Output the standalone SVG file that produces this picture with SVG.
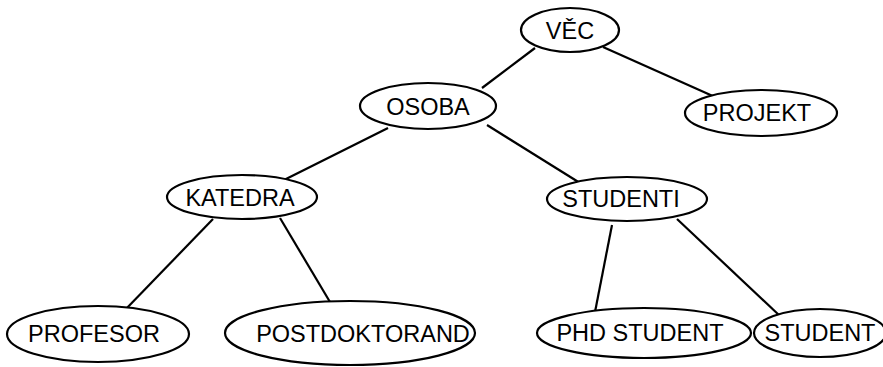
<svg xmlns="http://www.w3.org/2000/svg" width="883" height="367" viewBox="0 0 883 367">
  <style>
    .node ellipse { fill: #ffffff; stroke: #000000; stroke-width: 2.2; }
    .node text { font-family: "Liberation Sans", Arial, sans-serif; font-size: 23.5px; fill: #000000; text-anchor: middle; }
    #edges line { stroke: #000000; stroke-width: 2.2; }
  </style>
  <rect width="883" height="367" fill="#ffffff"/>
  <g id="edges">
    <line x1="535" y1="48" x2="482" y2="88"/>
    <line x1="603" y1="47" x2="715" y2="97"/>
    <line x1="388" y1="128" x2="282" y2="181"/>
    <line x1="487" y1="125" x2="580" y2="183"/>
    <line x1="213" y1="219" x2="125" y2="310"/>
    <line x1="280" y1="218" x2="330" y2="302"/>
    <line x1="612" y1="225" x2="595" y2="312"/>
    <line x1="677" y1="219" x2="780" y2="316"/>
  </g>
  <g id="vec" class="node">
    <ellipse cx="570" cy="30" rx="49" ry="22"/>
    <text x="570" y="39">VĚC</text>
  </g>
  <g id="osoba" class="node">
    <ellipse cx="428" cy="106" rx="68" ry="23"/>
    <text x="428" y="115">OSOBA</text>
  </g>
  <g id="projekt" class="node">
    <ellipse cx="761" cy="113" rx="76" ry="23"/>
    <text x="757" y="121">PROJEKT</text>
  </g>
  <g id="katedra" class="node">
    <ellipse cx="242" cy="197" rx="75" ry="22"/>
    <text x="240" y="206">KATEDRA</text>
  </g>
  <g id="studenti" class="node">
    <ellipse cx="627" cy="199" rx="80" ry="22"/>
    <text x="621" y="207">STUDENTI</text>
  </g>
  <g id="profesor" class="node">
    <ellipse cx="98" cy="334" rx="91" ry="28"/>
    <text x="94" y="342">PROFESOR</text>
  </g>
  <g id="postdoktorand" class="node">
    <ellipse cx="350" cy="333" rx="125" ry="32"/>
    <text x="363" y="342">POSTDOKTORAND</text>
  </g>
  <g id="phd-student" class="node">
    <ellipse cx="644" cy="333" rx="107" ry="25"/>
    <text x="640" y="341">PHD STUDENT</text>
  </g>
  <g id="student" class="node">
    <ellipse cx="820" cy="333" rx="66" ry="24"/>
    <text x="820" y="341">STUDENT</text>
  </g>
</svg>
